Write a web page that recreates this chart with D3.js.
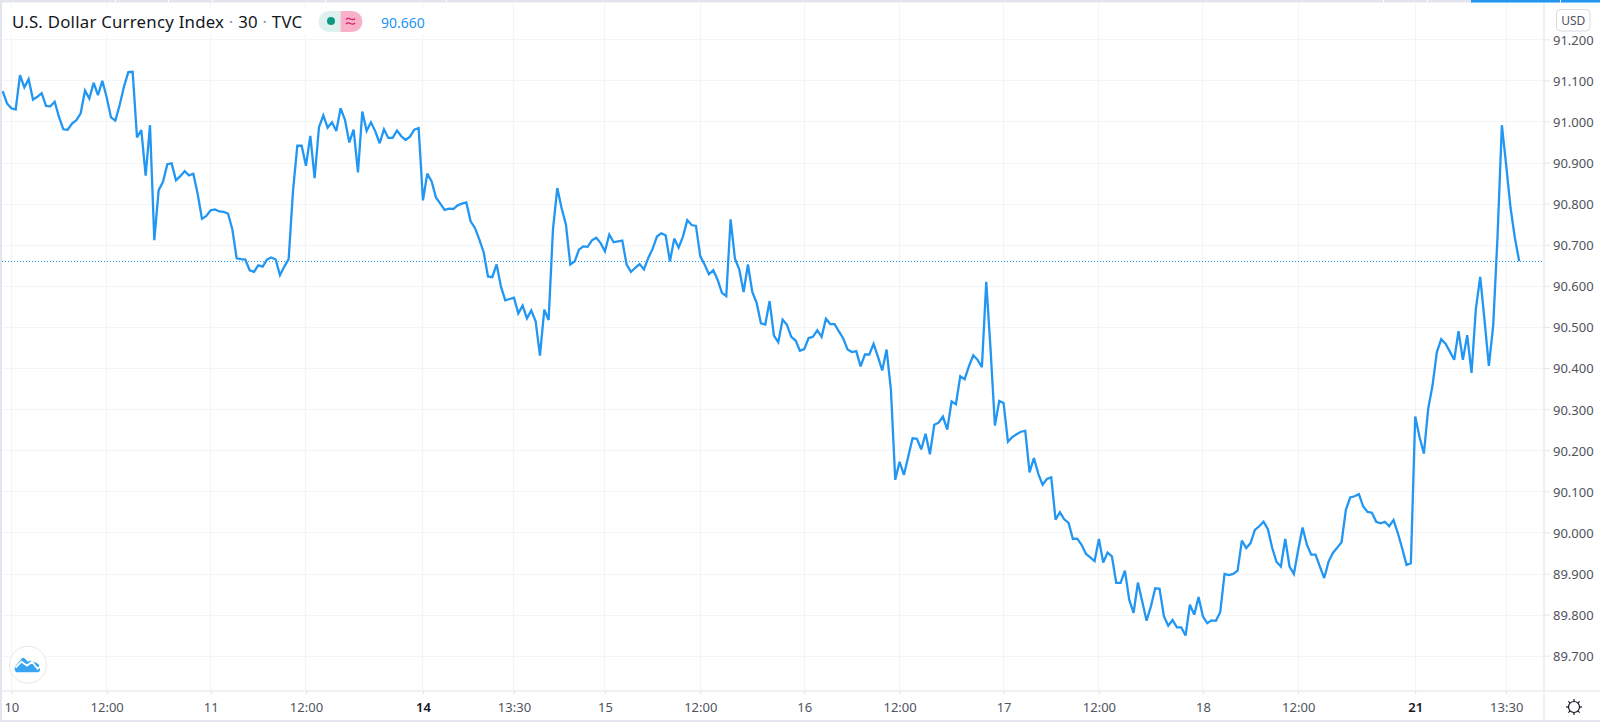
<!DOCTYPE html>
<html><head><meta charset="utf-8">
<script src="https://cdn.jsdelivr.net/npm/d3@7/dist/d3.min.js"></script>
<style>html,body{margin:0;padding:0;background:#fff;overflow:hidden}svg{display:block}text{font-family:"Noto Sans",sans-serif}</style>
</head><body>
<svg id="chart" width="1600" height="722"></svg>
<script>
const prices = [
91.074,91.044,91.032,91.029,91.113,91.083,91.103,91.053,91.060,91.069,
91.038,91.037,91.048,91.011,90.981,90.980,90.995,91.003,91.020,91.075,
91.056,91.094,91.064,91.099,91.059,91.010,91.002,91.040,91.085,91.120,
91.121,90.961,90.979,90.868,90.991,90.711,90.833,90.853,90.896,90.898,
90.857,90.867,90.879,90.869,90.873,90.824,90.763,90.770,90.784,90.786,
90.781,90.780,90.776,90.738,90.667,90.665,90.664,90.638,90.634,90.650,
90.647,90.664,90.669,90.664,90.626,90.647,90.665,90.830,90.941,90.941,
90.892,90.965,90.862,90.986,91.015,90.985,90.998,90.977,91.032,91.004,
90.949,90.980,90.876,91.024,90.977,90.998,90.976,90.947,90.981,90.960,
90.960,90.978,90.964,90.955,90.963,90.980,90.984,90.808,90.873,90.854,
90.815,90.800,90.785,90.788,90.787,90.796,90.800,90.803,90.757,90.741,
90.713,90.682,90.623,90.621,90.652,90.598,90.565,90.568,90.571,90.533,
90.552,90.521,90.540,90.514,90.430,90.542,90.517,90.737,90.838,90.789,
90.749,90.652,90.659,90.688,90.696,90.695,90.711,90.717,90.704,90.684,
90.725,90.706,90.708,90.710,90.652,90.634,90.644,90.653,90.640,90.668,
90.690,90.720,90.728,90.723,90.660,90.715,90.693,90.720,90.760,90.748,
90.746,90.672,90.652,90.628,90.638,90.615,90.583,90.575,90.762,90.666,
90.640,90.585,90.652,90.585,90.559,90.509,90.506,90.563,90.479,90.463,
90.518,90.505,90.476,90.467,90.442,90.446,90.473,90.476,90.492,90.476,
90.520,90.507,90.507,90.489,90.472,90.445,90.439,90.441,90.404,90.433,
90.433,90.459,90.428,90.394,90.445,90.347,90.128,90.172,90.140,90.185,
90.229,90.228,90.202,90.240,90.190,90.262,90.267,90.282,90.250,90.319,
90.312,90.380,90.373,90.404,90.431,90.420,90.402,90.610,90.445,90.260,
90.320,90.315,90.221,90.232,90.239,90.245,90.247,90.146,90.181,90.143,
90.116,90.130,90.134,90.031,90.049,90.032,90.023,89.984,89.985,89.970,
89.948,89.939,89.930,89.984,89.927,89.951,89.942,89.877,89.877,89.907,
89.836,89.804,89.878,89.832,89.785,89.820,89.864,89.863,89.796,89.773,
89.787,89.769,89.769,89.749,89.824,89.800,89.843,89.796,89.779,89.786,
89.785,89.806,89.899,89.896,89.899,89.907,89.980,89.962,89.974,90.006,
90.015,90.026,90.008,89.962,89.928,89.917,89.984,89.917,89.899,89.958,
90.012,89.970,89.946,89.946,89.917,89.889,89.929,89.950,89.963,89.976,
90.055,90.085,90.088,90.093,90.063,90.050,90.048,90.026,90.022,90.026,
90.015,90.030,89.998,89.961,89.921,89.925,90.282,90.232,90.192,90.301,
90.358,90.439,90.470,90.459,90.440,90.420,90.490,90.420,90.480,90.388,
90.544,90.622,90.516,90.405,90.504,90.720,90.991,90.893,90.790,90.717,
90.660];
const lastPrice = 90.660;
const priceTicks = [91.2,91.1,91.0,90.9,90.8,90.7,90.6,90.5,90.4,90.3,90.2,90.1,90.0,89.9,89.8,89.7];
const timeTickBars = [2,24,48,70,97,118,139,161,185,207,231,253,277,299,326,347];
const timeTickLabels = ["10","12:00","11","12:00","14","13:30","15","12:00","16","12:00","17","12:00","18","12:00","21","13:30"];
const boldTimeLabels = ["14","21"];
const titleParts = ["U.S. Dollar Currency Index"," · ","30"," · ","TVC"];
const currency = "USD";

const svg = d3.select("#chart");
const W = 1600, H = 722, axisX = 1544, axisY = 691;
const x = d3.scaleLinear().domain([0, 350]).range([2.67, 1519.2]);
const y = d3.scaleLinear().domain([89.7, 91.2]).range([655.7, 39.3]);
const GRID = "#f3f4f7", TEXT = "#50535e", BLUE = "#2196f3", FRAME = "#e3e5ee";

// frame
svg.append("rect").attr("width",W).attr("height",H).attr("fill","#fff");
const grid = svg.append("g").attr("shape-rendering","crispEdges");
grid.selectAll(".gy").data(priceTicks).join("line").attr("class","gy")
  .attr("x1",2).attr("x2",axisX).attr("y1",d=>Math.round(y(d))+.5).attr("y2",d=>Math.round(y(d))+.5)
  .attr("stroke",GRID).attr("stroke-width",1);
grid.selectAll(".gx").data(timeTickBars).join("line").attr("class","gx")
  .attr("x1",d=>Math.floor(x(d))+.5).attr("x2",d=>Math.floor(x(d))+.5).attr("y1",3).attr("y2",axisY)
  .attr("stroke",GRID).attr("stroke-width",1);

// last-price dotted line
svg.append("line").attr("x1",2).attr("x2",axisX).attr("y1",Math.round(y(lastPrice))+.5).attr("y2",Math.round(y(lastPrice))+.5)
  .attr("stroke",BLUE).attr("stroke-width",1).attr("stroke-dasharray","1 2").attr("shape-rendering","crispEdges");

// price line
const line = d3.line().x((d,i)=>x(i)).y(d=>y(d));
svg.append("path").datum(prices).attr("d",line).attr("fill","none")
  .attr("stroke",BLUE).attr("stroke-width",2.3).attr("stroke-linejoin","miter").attr("stroke-miterlimit",3);

// axes lines
svg.append("rect").attr("x",axisX-1).attr("y",3).attr("width",2).attr("height",H-5).attr("fill","#eff0f3");
svg.append("rect").attr("x",2).attr("y",axisY-1).attr("width",W-2).attr("height",2).attr("fill","#eff0f3");

// right axis
const yAxis = svg.append("g").attr("transform",`translate(${axisX},0)`)
  .call(d3.axisRight(y).tickValues(priceTicks).tickSize(6).tickPadding(4).tickFormat(d3.format(".3f")));
yAxis.select(".domain").remove();
yAxis.selectAll("line").attr("stroke","#e6e7ec");
yAxis.selectAll("text").attr("fill",TEXT).style("font-size","13px").style("font-family",'"Noto Sans",sans-serif').attr("x",9).attr("dy","0.38em");

// bottom axis
const xAxis = svg.append("g").attr("transform",`translate(0,${axisY})`)
  .call(d3.axisBottom(x).tickValues(timeTickBars).tickSize(3).tickPadding(10)
    .tickFormat(d=>timeTickLabels[timeTickBars.indexOf(d)]));
xAxis.select(".domain").remove();
xAxis.selectAll("line").attr("stroke","#e0e1e6");
xAxis.selectAll("text").attr("fill",d=>boldTimeLabels.includes(timeTickLabels[timeTickBars.indexOf(d)])?"#131722":TEXT)
  .style("font-weight",d=>boldTimeLabels.includes(timeTickLabels[timeTickBars.indexOf(d)])?"600":"400")
  .style("font-size","13px").style("font-family",'"Noto Sans",sans-serif').attr("y",12).attr("dy","0.71em");

// outer frame
svg.append("rect").attr("x",0).attr("y",0).attr("width",W).attr("height",2.5).attr("fill",FRAME);
svg.append("rect").attr("x",0).attr("y",0).attr("width",2).attr("height",H).attr("fill",FRAME);
svg.append("rect").attr("x",0).attr("y",H-2).attr("width",W).attr("height",2).attr("fill",FRAME);
svg.append("rect").attr("x",1471).attr("y",0).attr("width",129).attr("height",2.5).attr("fill",BLUE);
svg.selectAll(".sep").data([115,168,212,325,446,1383,1427,1560]).join("rect").attr("class","sep")
  .attr("x",d=>d).attr("y",0).attr("width",1).attr("height",2.5).attr("fill","#fff");

// legend
svg.append("rect").attr("x",8).attr("y",8).attr("width",424).attr("height",26).attr("fill","#fff").attr("opacity",.85);
const title = svg.append("text").attr("x",12).attr("y",27.5).attr("fill","#131722").style("font-size","16.8px").style("letter-spacing","0.24px");
title.selectAll("tspan").data(titleParts).join("tspan").text(d=>d)
  .attr("fill",d=>d.trim()==="·"?"#9598a1":"#131722");
const pill = svg.append("g");
pill.append("path").attr("d","M340.5 11H329a10.5 10.5 0 0 0 0 21h11.5z").attr("fill","#dff1ee");
pill.append("path").attr("d","M340.5 11H352a10.5 10.5 0 0 1 0 21h-11.5z").attr("fill","#f9b1c9");
pill.append("circle").attr("cx",331).attr("cy",21).attr("r",4).attr("fill","#0b9981");
pill.append("path").attr("d","M346 19.5q2-2 4.5-.5t4.5-.5M346 24q2-2 4.5-.5t4.5-.5").attr("fill","none").attr("stroke","#d81b60").attr("stroke-width",1.2);
svg.append("text").attr("x",381).attr("y",27.5).attr("fill",BLUE).style("font-size","14px").text(d3.format(".3f")(lastPrice));

// currency button
svg.append("rect").attr("x",1556.5).attr("y",9.5).attr("width",33.5).attr("height",21.5).attr("rx",4).attr("fill","#fff").attr("stroke","#d9dbe3");
svg.append("text").attr("x",1573.3).attr("y",25).attr("text-anchor","middle").attr("fill",TEXT).style("font-size","12px").text(currency);

// logo
const logo = svg.append("g").attr("transform","translate(28,664.7)");
logo.append("circle").attr("r",18.5).attr("fill","#fff").attr("stroke","#e8e8e8").attr("stroke-width",1);
logo.append("path").attr("d","M-12 7.5a5 5 0 0 1 .5-7.5l5-6a2.5 2.5 0 0 1 3.5 0l3 3a5 5 0 0 1 6 .5a6 6 0 0 1 6 6q.5 3.5-2 4z").attr("fill","#39a5f2");
logo.append("path").attr("d","M-12.5 3l6-6 5.5 4 5-4 5.5 7 5-4").attr("fill","none").attr("stroke","#fff").attr("stroke-width",1.8);

// settings icon
const gear = svg.append("g").attr("transform","translate(1574,707)").attr("fill","none").attr("stroke","#131722").attr("stroke-width",1.2);
gear.append("circle").attr("r",5.5);
gear.selectAll("line").data(d3.range(8)).join("line")
  .attr("x1",d=>5.5*Math.cos(d*Math.PI/4)).attr("y1",d=>5.5*Math.sin(d*Math.PI/4))
  .attr("x2",d=>8*Math.cos(d*Math.PI/4)).attr("y2",d=>8*Math.sin(d*Math.PI/4));
</script>
</body></html>
